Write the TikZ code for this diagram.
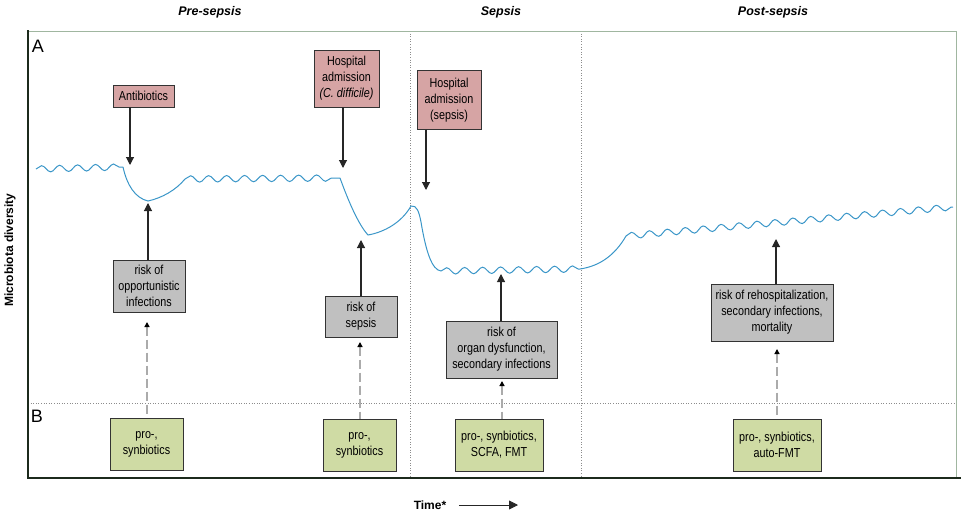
\documentclass[tikz,border=0pt]{standalone}
\usepackage{fontspec}
\setmainfont{Liberation Sans}
\newfontfamily\narrowfont{Liberation Sans}[FakeStretch=0.83]
\usepackage{tikz}
\usetikzlibrary{arrows.meta, positioning, decorations.pathmorphing}
\definecolor{eventred}{RGB}{214,164,164}
\definecolor{riskgray}{RGB}{192,192,192}
\definecolor{therapygreen}{RGB}{207,219,164}
\definecolor{curveblue}{RGB}{58,150,200}
\definecolor{framegreen}{RGB}{160,182,160}
\definecolor{framedark}{RGB}{28,42,28}

\begin{document}
\begin{tikzpicture}[x=1pt, y=-1pt,
      box/.style = {draw=black!80, line width=0.9pt, align=center, inner sep=1pt,
                    font=\narrowfont\fontsize{13}{16}\selectfont},
    event/.style = {box, fill=eventred},
     risk/.style = {box, fill=riskgray},
  therapy/.style = {box, fill=therapygreen},
     head/.style = {font=\bfseries\itshape\fontsize{12.5}{14}\selectfont},
    panel/.style = {font=\fontsize{18}{18}\selectfont, anchor=center},
      hit/.style = {draw=black!85, line width=1.1pt, -{Triangle[length=8pt, width=8pt]}},
     help/.style = {draw=black!33, line width=1.3pt, dash pattern=on 9pt off 4pt,
                    {Triangle[length=5pt, width=5pt, color=black]}-},
    curve/.style = {draw=curveblue, line width=1pt},
     wave/.style = {curve, decorate, decoration={snake, segment length=18pt, amplitude=3.2pt}},
   divide/.style = {draw=black!45, line width=0.6pt, dotted}]
  \useasboundingbox (0,0) rectangle (963,514);

  \draw[divide] (410,31) -- (410,478);
  \draw[divide] (581,31) -- (581,478);
  \draw[divide] (28,403) -- (956,403);
  \draw[framegreen, line width=0.8pt] (28,31) -- (956,31) -- (956,478);
  \draw[framedark, line width=2.4pt] (28,30) -- (28,478) -- (961,478);

  \node[head] (pre) at (210,12) {Pre-sepsis};
  \node[head] (sep) at (501,12) {Sepsis};
  \node[head] (post) at (773,12) {Post-sepsis};
  \node[panel] (pA) at (38,46) {A};
  \node[panel] (pB) at (37,416) {B};
  \node[font=\bfseries\fontsize{12}{14}\selectfont, rotate=90] (ylab) at (10,250) {Microbiota diversity};
  \node[font=\bfseries\fontsize{12}{14}\selectfont] (time) at (430,505) {Time*};
  \coordinate (tend) at (518,505);
  \draw[black!85, line width=0.8pt, -{Triangle[length=9pt, width=9pt]}] ([xshift=9pt]time.east) -- (tend);

  \coordinate (c0) at (36,169);
  \coordinate (c1) at (123,167);
  \coordinate (dip1) at (148,201);
  \coordinate (c3) at (185,179);
  \coordinate (c4) at (340,178);
  \coordinate (dip2) at (368,235);
  \coordinate (peak) at (411,206);
  \coordinate (c7) at (441,271);
  \coordinate (c8) at (580,269);
  \coordinate (c9) at (626,236);
  \coordinate (c10) at (953,207);
  \path[wave] (c0) -- (c1);
  \path[curve] (c1) .. controls (127,185) and (135,198) .. (dip1)
               .. controls (162,198) and (176,190) .. (c3);
  \path[wave] (c3) -- (c4);
  \path[curve] (c4) .. controls (348,200) and (358,224) .. (dip2)
               .. controls (385,232) and (402,222) .. (peak)
               .. controls (417,205) and (419,212) .. (421,222)
               .. controls (426,252) and (432,270) .. (c7);
  \path[wave] (c7) -- (c8);
  \path[curve] (c8) .. controls (600,266) and (615,255) .. (c9);
  \path[wave] (c9) -- (c10);

  \node[event, minimum width=61pt, minimum height=22pt] (abx) at (143.5,96) {Antibiotics};
  \node[event, minimum width=65pt, minimum height=57pt] (hosp1) at (346.5,78.5)
       {Hospital\\admission\\\textit{(C. difficile)}};
  \node[event, minimum width=64pt, minimum height=59pt] (hosp2) at (449,100)
       {Hospital\\admission\\(sepsis)};

  \node[risk, minimum width=72pt, minimum height=52pt] (ropp) at (149,286)
       {risk of\\opportunistic\\infections};
  \node[risk, minimum width=72pt, minimum height=41pt] (rsep) at (361,316.5)
       {risk of\\sepsis};
  \node[risk, minimum width=111pt, minimum height=57pt] (rorg) at (501.5,349.5)
       {risk of\\organ dysfunction,\\secondary infections};
  \node[risk, minimum width=122pt, minimum height=57pt] (rreh) at (772,312.5)
       {risk of rehospitalization,\\secondary infections,\\mortality};

  \node[therapy, minimum width=73pt, minimum height=52pt] (tpro1) at (146.5,444)
       {pro-,\\synbiotics};
  \node[therapy, minimum width=73pt, minimum height=52pt] (tpro2) at (359.5,445)
       {pro-,\\synbiotics};
  \node[therapy, minimum width=88pt, minimum height=52pt] (tfmt) at (499,445)
       {pro-, synbiotics,\\SCFA, FMT};
  \node[therapy, minimum width=88pt, minimum height=52pt] (tauto) at (777,445)
       {pro-, synbiotics,\\auto-FMT};

  \coordinate (h1) at (130,165);
  \coordinate (h2) at (343,168);
  \coordinate (h3) at (426,190);
  \coordinate (u1) at (148,203);
  \coordinate (u2) at (361,240);
  \coordinate (u3) at (501,274);
  \coordinate (u4) at (776,239);
  \coordinate (d1) at (147,322);
  \coordinate (d2) at (360,342);
  \coordinate (d3) at (502,381);
  \coordinate (d4) at (777,349);
  \path (abx.south -| h1) edge[hit] (h1)
        (hosp1.south -| h2) edge[hit] (h2)
        (hosp2.south -| h3) edge[hit] (h3);
  \path (ropp.north -| u1) edge[hit] (u1)
        (rsep.north -| u2) edge[hit] (u2)
        (rorg.north -| u3) edge[hit] (u3)
        (rreh.north -| u4) edge[hit] (u4);
  \path (d1) edge[help] (tpro1.north -| d1)
        (d2) edge[help] (tpro2.north -| d2)
        (d3) edge[help] (tfmt.north -| d3)
        (d4) edge[help] (tauto.north -| d4);
\end{tikzpicture}
\end{document}
